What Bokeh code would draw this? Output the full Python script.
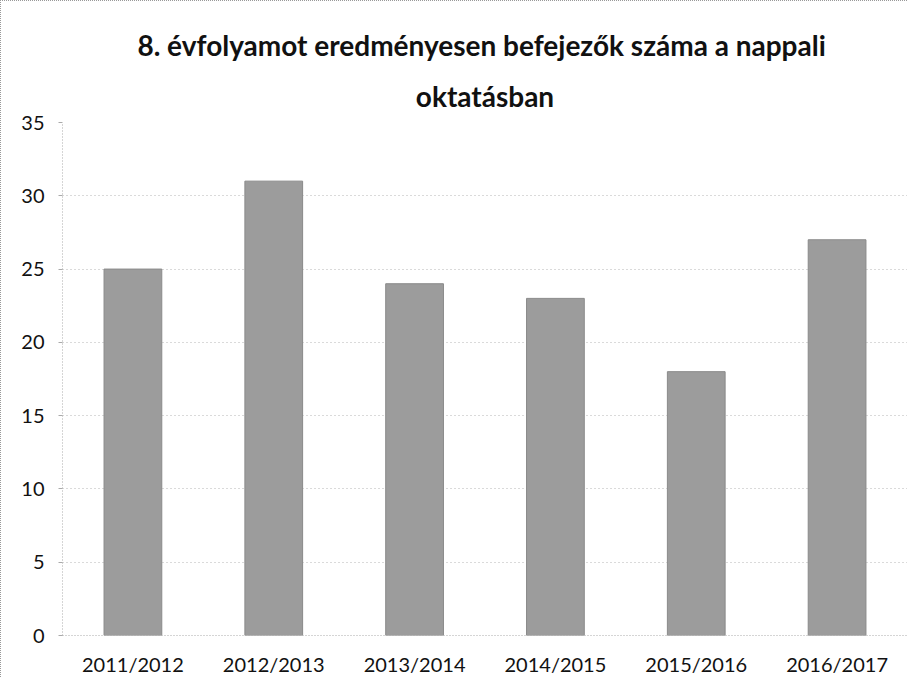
from bokeh.plotting import figure
from bokeh.embed import file_html
from bokeh.resources import INLINE
from bokeh.models import ColumnDataSource, Title, FixedTicker

years = ["2011/2012", "2012/2013", "2013/2014", "2014/2015", "2015/2016", "2016/2017"]
counts = [25, 31, 24, 23, 18, 27]
y_ticks = [0, 5, 10, 15, 20, 25, 30, 35]

src = ColumnDataSource(data=dict(years=years, counts=counts))

p = figure(x_range=years, y_range=(0, 35), width=907, height=677,
           output_backend="svg", toolbar_location=None,
           min_border_left=61, min_border_right=1, min_border_top=20, min_border_bottom=38)
p.styles = {"border-left": "1px dotted #999", "border-top": "1px dotted #999"}

p.add_layout(Title(text="oktatásban", align="center", text_font="Lato", text_font_size="28px",
                   text_font_style="bold", text_color="#111111", standoff=20), "above")
p.add_layout(Title(text="8. évfolyamot eredményesen befejezők száma  a nappali", align="center",
                   text_font="Lato", text_font_size="28px", text_font_style="bold",
                   text_color="#111111", standoff=10), "above")
p.add_layout(Title(text=" ", align="center", text_font="Lato", text_font_size="14px",
                   standoff=0), "above")

p.vbar(x="years", top="counts", width=0.41, source=src, fill_color="#9c9c9c",
       line_color="#8a8a8a", line_width=1)

p.outline_line_color = None
p.xgrid.grid_line_color = None
p.ygrid.grid_line_color = "#b5b5b5"
p.ygrid.grid_line_dash = "1 3"
p.yaxis.ticker = FixedTicker(ticks=y_ticks)
p.yaxis.axis_line_color = "#aaaaaa"
p.yaxis.axis_line_dash = "1 2"
p.yaxis.major_tick_line_color = "#aaaaaa"
p.yaxis.major_tick_in = 0
p.yaxis.major_tick_out = 4
p.yaxis.minor_tick_line_color = None
p.xaxis.axis_line_color = "#aaaaaa"
p.xaxis.axis_line_dash = "1 2"
p.xaxis.major_tick_line_color = None
p.xaxis.major_tick_out = 0
p.xaxis.major_tick_in = 0
p.xaxis.minor_tick_line_color = None
p.xaxis.axis_label_standoff = 0
for ax in (p.xaxis, p.yaxis):
    ax.major_label_text_font = "Lato"
    ax.major_label_text_font_size = "20px"
    ax.major_label_text_color = "#111111"
p.yaxis.major_label_standoff = 14
p.xaxis.major_label_standoff = 16

open("out.html", "w").write(file_html(p, INLINE))
